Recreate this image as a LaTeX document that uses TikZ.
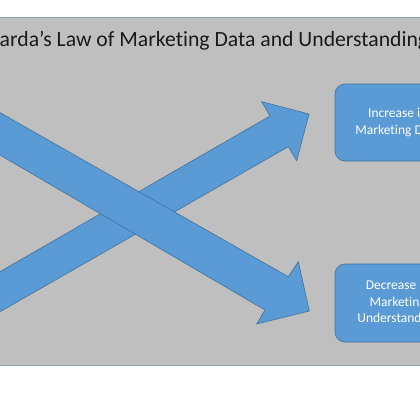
\documentclass[tikz,border=0pt]{standalone}
\usepackage{fontspec}
\setmainfont[Ligatures={NoCommon}]{Carlito}
\definecolor{slidegray}{HTML}{BFBFBF}
\definecolor{slideedge}{HTML}{8FA3BA}
\definecolor{accentfill}{HTML}{5B9BD5}
\definecolor{accentedge}{HTML}{41719C}
\definecolor{titleink}{HTML}{1A1A1A}
\tikzset{
  bigarrow/.style={fill=accentfill, draw=accentedge, line width=0.6pt, line join=miter},
  infobox/.style={fill=accentfill, draw=accentedge, line width=0.6pt, rounded corners=10pt,
    text=white, align=center, inner sep=0pt,
    font=\fontsize{13.5}{16.5}\selectfont},
}
\begin{document}
\begin{tikzpicture}[x=1pt,y=-1pt]
\useasboundingbox (0,0) rectangle (420,420);
\clip (0,0) rectangle (420,420);
\fill[white] (0,0) rectangle (420,420);
\draw[fill=slidegray, draw=slideedge, line width=0.8pt] (-10,17.5) rectangle (430,365.5);
\node[anchor=base west, inner sep=0pt, text=titleink, font=\fontsize{21.7}{26}\selectfont]
  (title) at (-0.5,46.7) {arda’s Law of Marketing Data and Understanding};
% arrows
\draw[bigarrow] (-5,274.6) -- (270,116) -- (261.7,101.7) -- (309,114) -- (296.7,160.7) -- (288.3,146.7) -- (-5,314.6) -- cycle;
\draw[bigarrow] (-5,109.8) -- (288.3,276.7) -- (298.3,261.7) -- (309.3,311) -- (256.7,324) -- (265,310) -- (-5,152.1) -- cycle;
% boxes
\node[infobox, minimum width=125.4pt, minimum height=77pt] (inc) at (397.7,122.5) {Increase in\\Marketing Data};
\node[infobox, minimum width=125.4pt, minimum height=78pt] (dec) at (397.7,303) {Decrease in\\Marketing\\Understanding};
\end{tikzpicture}
\end{document}
